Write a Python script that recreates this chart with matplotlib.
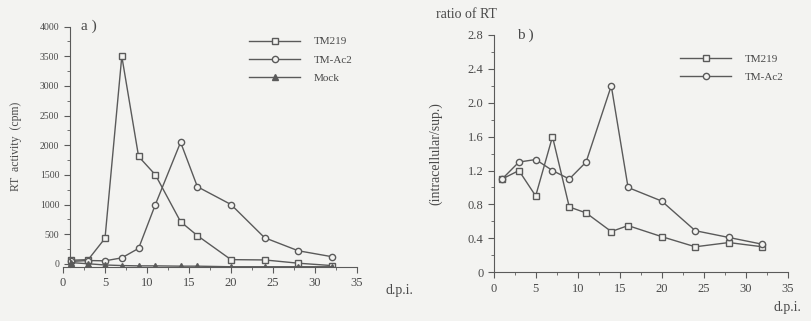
import numpy as np
import matplotlib.pyplot as plt
from matplotlib.ticker import MultipleLocator

# === Daten ===
dpi_a = [1, 3, 5, 7, 9, 11, 14, 16, 20, 24, 28, 32]
tm219_a = [60, 70, 430, 3500, 1810, 1500, 710, 475, 70, 65, 10, -30]
tmac2_a = [40, 55, 50, 100, 260, 1000, 2050, 1300, 1000, 440, 220, 120]
mock_a = [20, 0, -20, -30, -35, -35, -40, -40, -50, -50, -50, -50]

dpi_b = [1, 3, 5, 7, 9, 11, 14, 16, 20, 24, 28, 32]
tm219_b = [1.1, 1.2, 0.9, 1.6, 0.77, 0.7, 0.48, 0.55, 0.42, 0.3, 0.35, 0.3]
tmac2_b = [1.1, 1.3, 1.33, 1.2, 1.1, 1.3, 2.2, 1.0, 0.84, 0.49, 0.41, 0.33]

bg = '#f3f3f1'
lc = '#5a5a5a'
tc = '#4a4a4a'
plt.rcParams['font.family'] = ['Liberation Serif', 'DejaVu Serif']

fig = plt.figure(figsize=(8.12, 3.21), dpi=100, facecolor=bg)

ax1 = fig.add_axes([0.0776, 0.169, 0.362, 0.748])
ax2 = fig.add_axes([0.608, 0.152, 0.362, 0.739])

mk = dict(color=lc, lw=1.0, markersize=4.5, markerfacecolor=bg,
          markeredgecolor=lc, markeredgewidth=1.0)

# a) RT-Aktivitaet
ax1.plot(dpi_a, tm219_a, marker='s', label='TM219', **mk)
ax1.plot(dpi_a, tmac2_a, marker='o', label='TM-Ac2', **mk)
ax1.plot(dpi_a, mock_a, marker='^', label='Mock', color=lc, lw=1.0,
         markersize=4.5, markerfacecolor=lc, markeredgecolor=lc)
ax1.set_xlim(0, 35)
ax1.set_ylim(-50, 4000)
ax1.spines['left'].set_position(('data', 0.8))
ax1.yaxis.set_major_locator(MultipleLocator(500))
ax1.yaxis.set_minor_locator(MultipleLocator(250))
ax1.xaxis.set_major_locator(MultipleLocator(5))
ax1.xaxis.set_minor_locator(MultipleLocator(2.5))
ax1.tick_params(axis='y', labelsize=7)
ax1.tick_params(axis='x', labelsize=9)
ax1.legend(loc='upper left', bbox_to_anchor=(0.6, 1.0), frameon=False,
           fontsize=8, handlelength=4.6, labelspacing=0.75, handletextpad=1.2,
           labelcolor=tc)
ax1.text(0.06, 1.0, 'a )', transform=ax1.transAxes, fontsize=11,
         color=tc, ha='left', va='center')
ax1.set_ylabel('RT  activity  (cpm)', fontsize=8.5, color=tc, labelpad=13)
fig.text(0.492, 0.085, 'd.p.i.', fontsize=10, color=tc, ha='center')

# b) Verhaeltnis
ax2.plot(dpi_b, tm219_b, marker='s', label='TM219', **mk)
ax2.plot(dpi_b, tmac2_b, marker='o', label='TM-Ac2', **mk)
ax2.set_xlim(0, 35)
ax2.set_ylim(0, 2.8)
ax2.yaxis.set_minor_locator(MultipleLocator(0.2))
ax2.xaxis.set_major_locator(MultipleLocator(5))
ax2.xaxis.set_minor_locator(MultipleLocator(2.5))
ax2.set_yticks(np.arange(0, 2.81, 0.4))
ax2.set_yticklabels(['0', '0.4', '0.8', '1.2', '1.6', '2.0', '2.4', '2.8'])
ax2.tick_params(labelsize=9)
ax2.legend(loc='upper left', bbox_to_anchor=(0.6, 0.96), frameon=False,
           fontsize=8, handlelength=4.6, labelspacing=0.75, handletextpad=1.2,
           labelcolor=tc)
ax2.text(0.08, 1.0, 'b )', transform=ax2.transAxes, fontsize=11,
         color=tc, ha='left', va='center')
ax2.set_ylabel('(intracellular/sup.)', fontsize=10, color=tc, labelpad=18)
fig.text(0.574, 0.945, 'ratio of RT', fontsize=10, color=tc, ha='center')
fig.text(0.97, 0.03, 'd.p.i.', fontsize=10, color=tc, ha='center')

for ax in (ax1, ax2):
    ax.set_facecolor(bg)
    ax.spines['top'].set_visible(False)
    ax.spines['right'].set_visible(False)
    for s in ('left', 'bottom'):
        ax.spines[s].set_color(lc)
    ax.tick_params(which='major', length=4, color=lc, labelcolor=tc)
    ax.tick_params(which='minor', length=2.5, color=lc)

fig.savefig('out.png', dpi=100, facecolor=bg)
